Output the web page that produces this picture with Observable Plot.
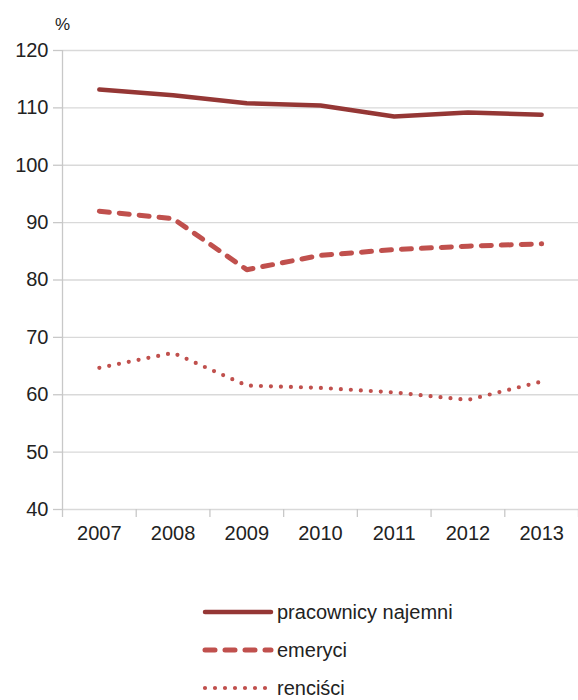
<!DOCTYPE html>
<html>
<head>
<meta charset="utf-8">
<script src="https://cdn.jsdelivr.net/npm/d3@7"></script>
<script src="https://cdn.jsdelivr.net/npm/@observablehq/plot@0.6"></script>
<style>
  body { margin: 0; background: #fff; font-family: "Liberation Sans", Arial, sans-serif; }
  #chart { position: relative; width: 578px; }
  #unit { position: absolute; left: 55px; top: 15px; font-size: 17px; color: #222; }
  .legend { margin-left: 202px; margin-top: 39px; }
  .row { display: flex; align-items: center; height: 38px; font-size: 20px; line-height: 22px; color: #222; }
  .row svg { margin-right: 3px; }
</style>
</head>
<body>
<div id="chart"><div id="unit">%</div></div>
<div class="legend" id="legend"></div>
<script>
const years = [2007, 2008, 2009, 2010, 2011, 2012, 2013];
const pracownicy = [113.2, 112.2, 110.8, 110.4, 108.5, 109.2, 108.8];
const emeryci = [92.0, 90.7, 81.8, 84.3, 85.3, 85.9, 86.3];
const rencisci = [64.7, 67.3, 61.6, 61.2, 60.4, 59.1, 62.3];
const seriesNames = ["pracownicy najemni", "emeryci", "renciści"];
const yTicks = [40, 50, 60, 70, 80, 90, 100, 110, 120];

const styles = {
  "pracownicy najemni": {stroke: "#953735", width: 4.5, dash: null, cap: "round"},
  "emeryci": {stroke: "#C0504D", width: 5, dash: "10,10", cap: "round"},
  "renciści": {stroke: "#C0504D", width: 4.2, dash: "0,10", cap: "round"}
};
const allSeries = [pracownicy, emeryci, rencisci];
const rows = [];
seriesNames.forEach((name, i) => years.forEach((y, j) => rows.push({series: name, year: y, value: allSeries[i][j]})));
const bounds = years.map(y => y - 0.5).concat([years[years.length - 1] + 0.5]);

const lineMarks = seriesNames.map(name => Plot.line(rows.filter(r => r.series === name), {
  x: "year", y: "value",
  stroke: styles[name].stroke, strokeWidth: styles[name].width,
  strokeDasharray: styles[name].dash, strokeLinecap: styles[name].cap, strokeLinejoin: "round"
}));

const plot = Plot.plot({
  width: 578, height: 554,
  marginLeft: 62, marginRight: 0, marginTop: 50, marginBottom: 45,
  style: {fontFamily: '"Liberation Sans", Arial, sans-serif', fontSize: "20px", color: "#222"},
  x: {domain: [bounds[0], bounds[bounds.length - 1]]},
  y: {domain: [40, 120]},
  marks: [
    Plot.gridY(yTicks, {stroke: "#d9d9d9", strokeOpacity: 1, strokeWidth: 1.3}),
    Plot.axisY(yTicks, {tickSize: 9, tickPadding: 5, stroke: "#c8c8c8", strokeWidth: 1.3, label: null, fontSize: 20, fill: "#222"}),
    Plot.axisX(bounds, {tickSize: 8, tickFormat: () => "", stroke: "#c8c8c8", strokeWidth: 1.3, label: null}),
    Plot.axisX(years, {tickSize: 0, tickPadding: 16, label: null, tickFormat: d => String(d), fontSize: 20, fill: "#222"}),
    Plot.ruleX([bounds[0]], {stroke: "#c8c8c8", strokeWidth: 1.3}),
    ...lineMarks
  ]
});
document.getElementById("chart").appendChild(plot);

const legend = document.getElementById("legend");
seriesNames.forEach(name => {
  const s = styles[name];
  const row = document.createElement("div");
  row.className = "row";
  row.innerHTML = `<svg width="72" height="10"><line x1="3" x2="69" y1="5" y2="5" stroke="${s.stroke}" stroke-width="${s.width}" stroke-linecap="${s.cap}" ${s.dash ? `stroke-dasharray="${s.dash}"` : ""}/></svg><span>${name}</span>`;
  legend.appendChild(row);
});
</script>
</body>
</html>
